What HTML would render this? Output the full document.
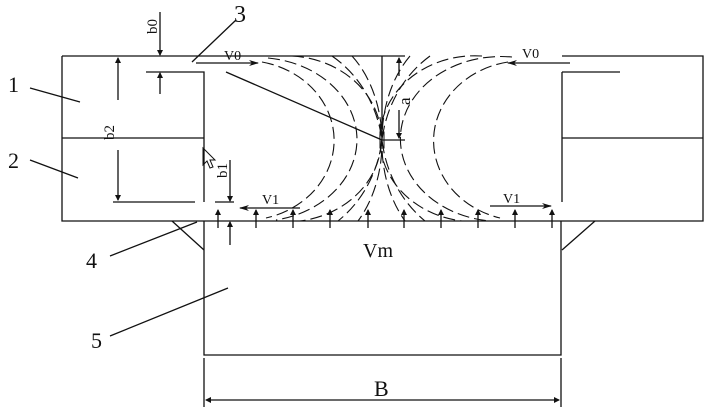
<!DOCTYPE html>
<html><head><style>
html,body{margin:0;padding:0;background:#fff;}
svg{display:block;}
text{font-family:"Liberation Serif",serif;fill:#111;}
</style></head><body>
<svg width="710" height="412" viewBox="0 0 710 412" xmlns="http://www.w3.org/2000/svg">
<defs>
<marker id="ah" markerWidth="10" markerHeight="6" refX="9" refY="3" orient="auto" markerUnits="userSpaceOnUse"><path d="M0,0 L10,3 L0,6 L3,3 Z" fill="#111"/></marker>
<marker id="sa" markerWidth="6" markerHeight="8" refX="5" refY="4" orient="auto" markerUnits="userSpaceOnUse"><path d="M0,1 L6,4 L0,7 Z" fill="#111"/></marker>
</defs>
<g stroke="#111" stroke-width="1.3" fill="none">
<path d="M62,56 H405 M62,56 V221 H560 M146,72 H204 V202 M62,138 H204 M113,202 H195 M215,202 H234"/>
<path d="M562,56 H703 V221 H560 M562,72 H620 M562,72 V202 M562,138 H703"/>
<path d="M204,221 V355 H561 V221"/>
<path d="M172,221 L204,250 M595,221 L562,250"/>
<path d="M204,358 V407 M561,358 V407"/>
<line x1="380" y1="400" x2="559" y2="400" marker-end="url(#sa)"/>
<line x1="380" y1="400" x2="206" y2="400" marker-end="url(#sa)"/>
<path d="M382,56 V140 H405 M226,72 L382,140"/>
<rect x="380" y="132" width="4" height="16" stroke-width="1"/>
<line x1="399" y1="76" x2="399" y2="58" marker-end="url(#sa)"/>
<line x1="399" y1="110" x2="399" y2="138" marker-end="url(#sa)"/>
<line x1="118" y1="100" x2="118" y2="58" marker-end="url(#sa)"/>
<line x1="118" y1="150" x2="118" y2="200" marker-end="url(#sa)"/>
<line x1="160" y1="12" x2="160" y2="55" marker-end="url(#sa)"/>
<line x1="160" y1="94" x2="160" y2="73" marker-end="url(#sa)"/>
<line x1="230" y1="160" x2="230" y2="201" marker-end="url(#sa)"/>
<line x1="230" y1="245" x2="230" y2="222" marker-end="url(#sa)"/>
<line x1="196" y1="63" x2="258" y2="63" marker-end="url(#ah)"/>
<line x1="570" y1="63" x2="508" y2="63" marker-end="url(#ah)"/>
<line x1="300" y1="208" x2="240" y2="208" marker-end="url(#ah)"/>
<line x1="490" y1="206" x2="551" y2="206" marker-end="url(#ah)"/>
<g>
<line x1="218" y1="228" x2="218" y2="210" marker-end="url(#sa)"/>
<line x1="256" y1="228" x2="256" y2="210" marker-end="url(#sa)"/>
<line x1="293" y1="228" x2="293" y2="210" marker-end="url(#sa)"/>
<line x1="330" y1="228" x2="330" y2="210" marker-end="url(#sa)"/>
<line x1="368" y1="228" x2="368" y2="210" marker-end="url(#sa)"/>
<line x1="404" y1="228" x2="404" y2="210" marker-end="url(#sa)"/>
<line x1="441" y1="228" x2="441" y2="210" marker-end="url(#sa)"/>
<line x1="478" y1="228" x2="478" y2="210" marker-end="url(#sa)"/>
<line x1="515" y1="228" x2="515" y2="210" marker-end="url(#sa)"/>
<line x1="552" y1="228" x2="552" y2="210" marker-end="url(#sa)"/>
</g>
<path d="M30,88 L80,102 M30,160 L78,178 M236,20 L192,62 M110,256 L197,222 M110,336 L228,288"/>
<path d="M203,148 L203,165 L207,161 L210,168 L213,167 L210,160 L215,160 Z" stroke-width="1"/>
</g>
<g stroke="#111" stroke-width="1.1" fill="none" stroke-dasharray="12,5">
<path d="M262,62 A90,80 0 0 1 266,218"/>
<path d="M268,58 A100,82 0 0 1 276,220"/>
<path d="M292,56 A95,83 0 0 1 300,221"/>
<path d="M332,56 A110,120 0 0 1 382,140 A110,120 0 0 0 425,221"/>
<path d="M352,56 A80,110 0 0 1 382,140 A80,110 0 0 0 405,221"/>
<path d="M508,62 A90,80 0 0 0 500,218"/>
<path d="M512,57 A100,82 0 0 0 490,221"/>
<path d="M482,56 A95,83 0 0 0 462,221"/>
<path d="M430,56 A110,120 0 0 0 382,140 A110,120 0 0 1 338,221"/>
<path d="M410,56 A80,110 0 0 0 382,140 A80,110 0 0 1 358,221"/>
</g>
<g>
<text x="8" y="92" font-size="22">1</text>
<text x="8" y="168" font-size="22">2</text>
<text x="234" y="22" font-size="24">3</text>
<text x="86" y="268" font-size="22">4</text>
<text x="91" y="348" font-size="22">5</text>
<text x="224" y="60" font-size="14">V0</text>
<text x="522" y="58" font-size="14">V0</text>
<text x="262" y="204" font-size="14">V1</text>
<text x="503" y="203" font-size="14">V1</text>
<text x="363" y="257" font-size="20">Vm</text>
<text x="374" y="396" font-size="22">B</text>
<text transform="translate(114,140) rotate(-90)" font-size="15">b2</text>
<text transform="translate(157,34) rotate(-90)" font-size="15">b0</text>
<text transform="translate(227,178) rotate(-90)" font-size="15">b1</text>
<text transform="translate(410,105) rotate(-90)" font-size="17">a</text>
</g>
</svg>
</body></html>
